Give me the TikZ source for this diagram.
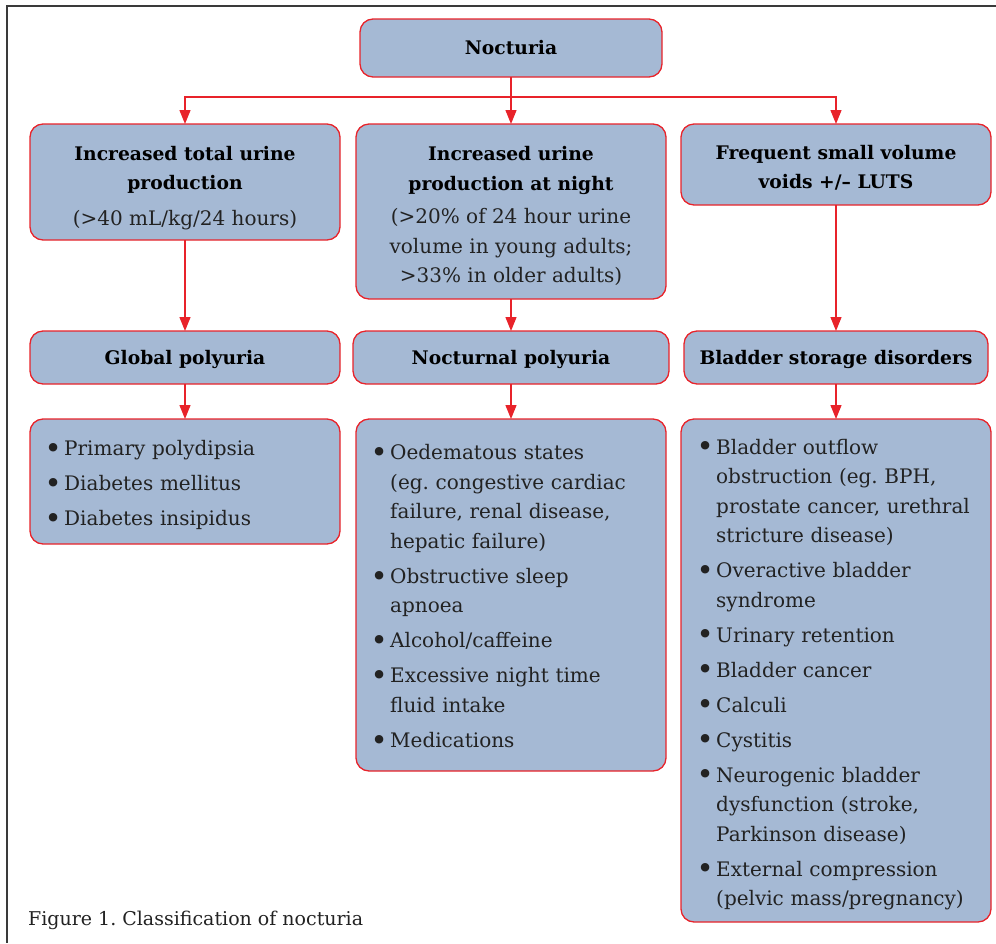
\documentclass[tikz,border=0pt]{standalone}
\usepackage{fontspec}
\setmainfont{DejaVu Serif}
\usetikzlibrary{arrows.meta}
\definecolor{boxfill}{HTML}{A5B9D4}
\definecolor{edgered}{HTML}{E8232A}
\definecolor{framegray}{HTML}{3A3A3A}
\definecolor{txt}{HTML}{222222}
\frenchspacing
\newcommand{\bitem}[1]{\hangindent=16pt\hangafter=1\noindent\makebox[16pt][l]{\hspace{-3.5pt}\raisebox{-2.8pt}{\scalebox{1.45}{\textbullet}}}#1\par}
\newcommand{\fs}{\fontsize{20}{29.5}\selectfont}
\newcommand{\hs}{\fontsize{18.7}{29.5}\selectfont\bfseries}
\newcommand{\nl}{\hfil\break}
\begin{document}
\begin{tikzpicture}[x=1pt,y=-1pt,
  box/.style={draw=edgered, line width=1.3pt, fill=boxfill, rounded corners=13pt, anchor=north west, inner sep=0pt, outer sep=0pt},
  arr/.style={draw=edgered, line width=1.3pt, -{Triangle[length=14pt,width=11pt]}},
  ln/.style={draw=edgered, line width=1.3pt},
  head/.style={font=\hs, align=center, inner sep=0pt, text=black},
  lst/.style={font=\fs, align=left, text width=295pt, inner sep=0pt, anchor=west, text=txt},
]
\useasboundingbox (0,0) rectangle (996,943);
\draw[framegray, line width=1.5pt] (996,6) -- (7,6) -- (7,943);

% boxes
\node[box, minimum width=302pt, minimum height=58pt] (noct) at (360,19) {};
\node[box, minimum width=310pt, minimum height=116pt] (A) at (30,124) {};
\node[box, minimum width=310pt, minimum height=175pt] (B) at (356,124) {};
\node[box, minimum width=310pt, minimum height=81pt] (C) at (681,124) {};
\node[box, minimum width=310pt, minimum height=53pt] (D) at (30,331) {};
\node[box, minimum width=316pt, minimum height=53pt] (E) at (353,331) {};
\node[box, minimum width=304pt, minimum height=53pt] (F) at (684,331) {};
\node[box, minimum width=310pt, minimum height=125pt] (G) at (30,419) {};
\node[box, minimum width=310pt, minimum height=352pt] (H) at (356,419) {};
\node[box, minimum width=310pt, minimum height=503pt] (I) at (681,419) {};

% texts
\node[head] (tnoct) at (511,48) {Nocturia};
\node[head] (tA) at (185,188) {Increased total urine\\production\\[6pt]\fs\mdseries\color{txt}(>40 mL/kg/24 hours)};
\node[head] (tB) at (511,216) {Increased urine\\production at night\\[4pt]\fs\mdseries\color{txt}(>20\% of 24 hour urine\\\fs\mdseries\color{txt}volume in young adults;\\\fs\mdseries\color{txt}>33\% in older adults)};
\node[head] (tC) at (836,168) {Frequent small volume\\voids +/– LUTS};
\node[head] (tD) at (185,359) {Global polyuria};
\node[head] (tE) at (511,359) {Nocturnal polyuria};
\node[head] (tF) at (836,359) {Bladder storage disorders};

\node[lst] (tG) at (48,485) {\setlength{\parskip}{5.5pt}%
\bitem{Primary polydipsia}
\bitem{Diabetes mellitus}
\bitem{Diabetes insipidus}};
\node[lst] (tH) at (374,597.5) {\setlength{\parskip}{5.5pt}%
\bitem{Oedematous states\nl (eg. congestive cardiac\nl failure, renal disease,\nl hepatic failure)}
\bitem{Obstructive sleep\nl apnoea}
\bitem{Alcohol/caffeine}
\bitem{Excessive night time\nl fluid intake}
\bitem{Medications}};
\node[lst] (tI) at (700,674.5) {\setlength{\parskip}{5.5pt}%
\bitem{Bladder outflow\nl obstruction (eg. BPH,\nl prostate cancer, urethral\nl stricture disease)}
\bitem{Overactive bladder\nl syndrome}
\bitem{Urinary retention}
\bitem{Bladder cancer}
\bitem{Calculi}
\bitem{Cystitis}
\bitem{Neurogenic bladder\nl dysfunction (stroke,\nl Parkinson disease)}
\bitem{External compression\nl (pelvic mass/pregnancy)}};

\node[font=\fontsize{19}{22}\selectfont, anchor=west, inner sep=0pt, text=txt] (cap) at (28,920) {Figure 1. Classification of nocturia};

% connectors
\coordinate (j) at (511,97);
\draw[ln] (noct.south) -- (j);
\draw[arr] (j) -- (B.north);
\draw[arr] (j) -| (A.north);
\draw[arr] (j) -| (C.north);
\draw[arr] (A.south) -- (D.north);
\draw[arr] (B.south) -- (E.north);
\draw[arr] (C.south) -- (F.north);
\draw[arr] (D.south) -- (G.north);
\draw[arr] (E.south) -- (H.north);
\draw[arr] (F.south) -- (I.north);
\end{tikzpicture}
\end{document}
